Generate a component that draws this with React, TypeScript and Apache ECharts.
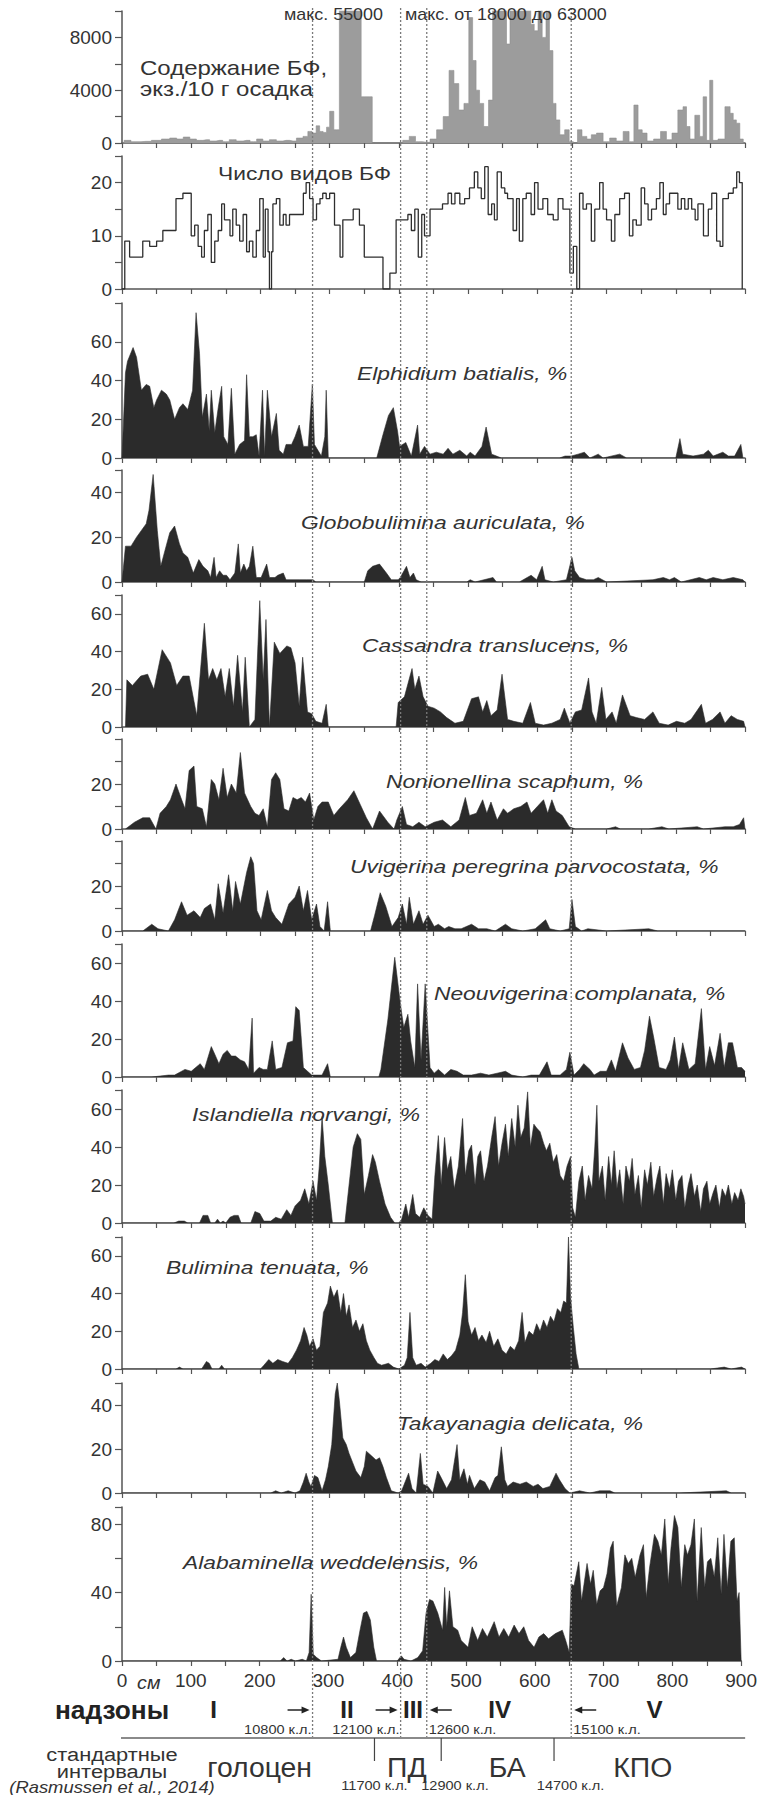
import React, { useEffect, useRef } from 'react';
import * as echarts from 'echarts';

// ---------- DATA (depth in cm, value) ----------
const contentBF: number[][] = [
  [0,0],[6,200],[20,100],[35,125],[50,200],[64,300],[74,375],[84,300],[93,450],[103,300],[112,200],[122,250],[131,150],[141,200],[150,100],[160,250],[170,150],[180,200],[190,100],[199,300],[208,150],[218,250],[228,150],[237,200],[247,150],[257,375],[266,500],[271,875],[278,750],[283,1300],[288,875],[293,800],[298,1200],[302,2400],[310,1000],[318,55000],[326,55000],[333,40000],[341,55000],[350,3500],[358,3500],[365,0],[401,0],[410,200],[420,500],[428,100],[440,50],[450,300],[459,1000],[469,2000],[476,5500],[483,4500],[490,2500],[498,3000],[504,9500],[509,6250],[514,4000],[519,3000],[526,1250],[533,3250],[538,18000],[543,25000],[548,63000],[553,20000],[558,7500],[563,30000],[568,40000],[573,15000],[578,50000],[583,22000],[588,35000],[593,9000],[598,8500],[604,20000],[610,8000],[615,12000],[620,7000],[625,3000],[629,1750],[636,625],[643,1000],[649,100],[655,0],[661,1000],[668,500],[675,300],[681,625],[690,750],[700,100],[709,375],[719,150],[729,875],[736,100],[743,2875],[748,1000],[755,750],[762,150],[774,300],[782,875],[791,250],[798,750],[808,2500],[813,2750],[818,1250],[823,300],[832,2100],[837,500],[842,3500],[847,200],[851,4750],[856,200],[866,300],[876,2750],[881,2250],[885,1750],[890,1500],[895,300],[900,0]
];

const speciesCount: number[][] = [
  [0,0],[4,9],[11,6],[30,9],[40,8],[50,9],[59,11],[78,17],[88,18],[100,10],[105,12],[110,8],[115,6],[119,11],[124,14],[129,5],[134,9],[139,11],[144,16],[148,13],[156,10],[160,15],[165,12],[170,9],[175,14],[180,7],[184,9],[189,6],[194,11],[199,17],[204,6],[207,15],[211,7],[213,0],[216,7],[218,16],[223,17],[228,12],[233,14],[237,12],[242,14],[257,14],[262,18],[266,20],[271,17],[276,13],[281,16],[286,17],[290,18],[295,17],[300,18],[307,12],[315,6],[319,13],[334,15],[343,12],[350,6],[377,0],[387,3],[396,13],[406,13],[413,14],[418,11],[423,15],[428,6],[433,14],[437,10],[445,15],[463,16],[471,18],[476,16],[481,18],[488,16],[495,17],[502,19],[509,22],[514,19],[519,17],[524,23],[529,14],[534,16],[538,13],[542,22],[548,19],[553,18],[557,17],[565,11],[570,17],[574,9],[579,17],[584,18],[591,14],[596,20],[601,15],[608,17],[615,14],[623,13],[630,17],[637,15],[642,15],[647,3],[652,8],[657,0],[661,18],[666,15],[671,16],[678,9],[683,15],[690,20],[695,15],[700,13],[707,9],[712,14],[719,17],[726,18],[733,10],[738,13],[743,12],[750,19],[755,16],[760,13],[765,15],[772,17],[777,20],[782,14],[786,16],[791,18],[796,18],[803,15],[808,17],[813,15],[818,17],[823,15],[828,13],[832,16],[840,10],[847,15],[852,18],[859,9],[864,8],[868,17],[876,18],[883,19],[888,22],[892,20],[896,0]
];

const elphidium: number[][] = [
  [0,0],[5,44],[8,50],[16,57],[21,52],[28,35],[35,38],[40,37],[46,26],[50,30],[57,35],[64,33],[69,30],[76,20],[83,26],[88,28],[95,25],[102,35],[107,75],[112,54],[116,21],[122,33],[126,14],[129,35],[134,13],[139,26],[144,37],[147,11],[153,7],[158,36],[163,2],[170,7],[177,9],[180,43],[184,11],[189,11],[194,12],[198,1],[203,35],[206,1],[210,35],[216,11],[223,23],[227,4],[233,2],[237,7],[245,7],[250,11],[256,17],[262,6],[269,6],[275,38],[278,7],[283,4],[288,1],[293,11],[295,35],[298,0],[368,0],[377,12],[385,22],[392,26],[398,14],[401,6],[410,8],[418,1],[427,17],[430,2],[437,6],[445,2],[454,3],[464,2],[471,5],[478,2],[488,4],[498,1],[503,3],[510,1],[520,6],[526,16],[534,2],[541,1],[548,0],[632,0],[640,1],[649,1],[659,2],[668,3],[676,0],[688,2],[695,0],[719,2],[729,0],[800,0],[806,10],[810,2],[825,1],[840,2],[847,4],[854,1],[868,3],[876,1],[885,1],[894,7],[897,0]
];

const globobulimina: number[][] = [
  [0,0],[5,16],[13,16],[21,20],[28,23],[35,26],[39,32],[45,48],[51,23],[56,7],[62,14],[69,22],[76,25],[83,17],[88,13],[95,11],[103,4],[111,10],[117,7],[124,5],[128,2],[133,11],[136,2],[141,5],[146,3],[151,3],[156,1],[163,4],[168,17],[171,4],[176,8],[180,5],[184,7],[189,16],[194,2],[201,2],[209,8],[213,2],[221,2],[225,3],[233,4],[237,1],[247,1],[257,1],[266,1],[276,1],[280,0],[350,0],[355,5],[362,7],[372,8],[382,4],[389,1],[399,1],[402,2],[411,7],[416,2],[421,4],[425,1],[432,0],[498,0],[503,1],[510,0],[536,2],[541,0],[574,0],[591,3],[599,1],[607,7],[611,1],[623,0],[642,1],[650,11],[654,5],[661,2],[671,1],[681,1],[688,2],[700,0],[767,1],[782,2],[791,1],[798,2],[808,0],[834,2],[844,1],[854,2],[868,1],[883,2],[897,1],[900,0]
];

const cassandra: number[][] = [
  [5,0],[7,25],[15,22],[27,27],[37,28],[46,20],[58,41],[70,34],[79,22],[88,27],[97,27],[108,6],[119,55],[125,25],[131,31],[137,25],[143,31],[149,16],[155,31],[161,11],[167,38],[174,8],[178,37],[184,0],[192,4],[199,67],[204,25],[208,57],[213,0],[220,45],[228,39],[238,43],[244,42],[250,34],[256,11],[261,37],[268,8],[274,7],[280,3],[289,2],[295,12],[298,0],[396,0],[399,13],[408,16],[419,31],[423,20],[429,27],[435,16],[442,11],[451,10],[460,8],[469,5],[481,2],[493,3],[505,15],[515,16],[521,8],[527,14],[533,6],[542,9],[549,28],[557,4],[566,3],[579,2],[590,13],[597,2],[609,1],[621,2],[633,4],[639,10],[647,2],[655,8],[664,9],[674,26],[679,8],[685,2],[693,21],[699,4],[708,8],[714,2],[723,17],[734,6],[743,5],[755,4],[767,8],[776,2],[789,1],[801,3],[813,2],[822,4],[837,12],[843,2],[853,4],[864,8],[871,2],[880,6],[889,4],[898,3],[900,0]
];

const nonionellina: number[][] = [
  [5,0],[18,3],[30,5],[40,5],[49,0],[55,7],[64,10],[70,13],[78,20],[85,14],[91,9],[97,26],[104,28],[108,10],[116,9],[122,1],[129,22],[134,20],[140,13],[146,27],[152,14],[158,20],[165,16],[171,34],[177,16],[186,10],[192,7],[198,6],[204,9],[210,1],[216,22],[222,25],[228,22],[234,9],[241,8],[247,14],[253,13],[259,14],[265,12],[271,16],[277,4],[283,10],[289,12],[298,12],[306,6],[314,9],[326,13],[335,17],[344,11],[353,5],[362,0],[372,8],[384,3],[393,0],[397,4],[405,10],[411,2],[420,1],[429,3],[438,1],[451,3],[463,4],[475,1],[487,4],[496,14],[502,6],[512,7],[521,13],[527,7],[533,12],[542,4],[551,9],[557,7],[566,9],[576,10],[585,12],[591,7],[600,10],[609,13],[615,7],[621,13],[627,8],[636,6],[646,1],[655,0],[700,0],[713,1],[720,0],[761,0],[780,1],[790,0],[831,1],[840,0],[871,1],[883,1],[892,2],[898,5],[900,0]
];

const uvigerina: number[][] = [
  [0,0],[30,0],[43,3],[52,1],[67,0],[76,5],[86,13],[94,7],[104,9],[113,6],[119,10],[128,12],[134,5],[139,21],[146,8],[154,25],[160,9],[164,22],[171,12],[180,26],[186,33],[190,30],[195,9],[201,5],[210,18],[216,9],[222,6],[231,3],[241,12],[250,15],[256,20],[262,9],[268,18],[274,5],[281,12],[286,2],[292,0],[297,13],[301,0],[359,0],[365,7],[373,17],[381,11],[390,2],[399,6],[405,12],[411,3],[415,15],[421,3],[429,9],[435,3],[442,7],[451,2],[457,3],[466,1],[472,2],[481,1],[490,1],[505,3],[515,1],[527,1],[539,0],[554,3],[563,1],[579,0],[597,1],[612,5],[618,1],[633,0],[646,1],[650,14],[655,2],[664,0],[673,1],[700,0],[761,1],[774,0],[900,0]
];

const neouvigerina: number[][] = [
  [0,0],[43,0],[67,1],[76,1],[91,4],[100,3],[113,7],[119,4],[129,16],[134,12],[140,7],[146,12],[152,14],[158,11],[164,11],[171,9],[177,8],[183,4],[188,31],[190,2],[198,5],[204,4],[210,4],[217,19],[222,4],[231,5],[239,18],[247,19],[251,37],[256,35],[262,5],[268,3],[274,1],[280,1],[289,1],[297,7],[301,0],[371,0],[374,4],[384,30],[394,63],[402,39],[407,26],[413,33],[417,19],[423,5],[427,49],[432,9],[438,49],[445,5],[451,2],[457,4],[466,1],[475,4],[484,3],[493,1],[505,1],[518,2],[530,1],[542,2],[554,3],[563,1],[579,0],[591,1],[603,1],[614,8],[620,1],[633,1],[642,4],[647,13],[653,1],[661,4],[667,7],[676,4],[682,1],[691,3],[700,3],[707,9],[713,3],[723,18],[731,10],[740,4],[749,5],[755,14],[762,32],[768,21],[776,5],[786,4],[792,9],[798,21],[804,4],[810,18],[819,4],[828,7],[837,36],[843,4],[849,16],[856,6],[864,23],[870,5],[876,18],[882,18],[889,5],[895,5],[900,3]
];

const islandiella: number[][] = [
  [0,0],[75,0],[82,1],[90,1],[95,0],[112,0],[117,4],[124,4],[128,0],[134,0],[138,2],[142,0],[146,1],[150,0],[156,3],[162,4],[168,4],[172,0],[186,0],[192,6],[199,5],[205,1],[215,1],[222,3],[230,2],[238,7],[244,4],[250,9],[258,12],[264,18],[270,10],[276,22],[281,12],[285,30],[289,56],[293,35],[298,20],[304,0],[322,0],[328,20],[334,40],[340,47],[345,44],[350,15],[356,25],[362,36],[366,32],[372,22],[380,10],[388,3],[394,0],[400,0],[404,2],[410,10],[414,3],[420,15],[424,5],[430,3],[436,8],[442,4],[448,2],[452,25],[457,46],[461,20],[466,45],[470,28],[475,35],[480,18],[486,30],[492,55],[496,25],[501,38],[505,41],[510,20],[514,35],[518,38],[523,22],[528,30],[534,45],[539,56],[544,30],[549,42],[554,52],[558,35],[563,55],[568,40],[572,62],[576,45],[581,50],[586,69],[590,40],[595,52],[599,50],[604,48],[609,42],[613,38],[618,42],[623,32],[628,36],[633,25],[638,22],[643,30],[648,35],[651,8],[655,3],[660,22],[665,30],[669,12],[674,25],[679,18],[683,40],[686,62],[689,22],[694,30],[698,12],[703,35],[707,20],[711,38],[715,18],[719,28],[724,10],[728,30],[733,22],[737,34],[741,15],[746,25],[750,8],[755,28],[759,20],[764,32],[768,14],[773,24],[777,30],[782,10],[786,26],[791,18],[795,28],[800,12],[804,22],[809,25],[813,8],[818,20],[822,26],[827,14],[831,20],[836,6],[840,18],[845,22],[849,10],[854,16],[858,20],[863,8],[867,18],[872,14],[876,20],[881,10],[885,16],[890,12],[894,18],[898,14],[900,10]
];

const bulimina: number[][] = [
  [0,0],[78,0],[83,1],[88,0],[115,0],[122,4],[126,3],[130,0],[140,0],[144,2],[148,0],[200,0],[205,2],[212,5],[218,3],[225,5],[232,4],[240,3],[246,6],[252,10],[258,15],[263,22],[267,18],[271,12],[276,16],[281,10],[286,12],[291,30],[297,35],[301,44],[306,38],[311,42],[316,30],[320,40],[324,28],[328,34],[333,22],[338,26],[343,20],[348,24],[353,15],[358,10],[364,6],[369,3],[375,2],[385,3],[392,1],[400,0],[408,2],[412,6],[416,30],[420,6],[425,2],[432,3],[438,1],[446,3],[452,5],[458,4],[464,8],[470,5],[476,7],[482,10],[488,18],[492,30],[496,50],[500,25],[505,18],[510,22],[515,15],[520,18],[526,14],[531,20],[537,12],[543,16],[549,10],[555,8],[561,12],[567,10],[573,15],[578,30],[582,14],[588,20],[594,18],[599,24],[604,20],[609,26],[614,22],[619,28],[624,25],[629,32],[634,30],[638,36],[642,35],[645,70],[648,38],[652,22],[656,8],[660,0],[760,0],[850,0],[870,1],[880,0],[895,1],[900,0]
];

const takayanagia: number[][] = [
  [0,0],[215,0],[222,1],[230,0],[240,1],[250,0],[257,1],[262,5],[266,9],[270,5],[273,3],[278,8],[283,7],[289,1],[294,6],[298,12],[303,22],[308,45],[311,50],[314,42],[319,25],[324,22],[328,18],[333,14],[338,10],[345,7],[350,12],[353,19],[360,17],[367,15],[372,16],[377,12],[382,7],[389,1],[399,0],[404,1],[414,9],[419,2],[425,0],[431,18],[435,4],[442,3],[449,0],[456,10],[461,7],[469,2],[476,6],[484,22],[488,6],[494,11],[499,4],[502,8],[509,2],[517,6],[524,5],[531,1],[539,7],[543,8],[548,21],[553,6],[557,3],[565,5],[575,4],[584,5],[594,3],[601,4],[608,2],[618,3],[627,9],[632,6],[640,2],[647,0],[661,1],[676,0],[690,1],[705,1],[712,0],[806,0],[873,1],[880,0],[900,0]
];

const alabaminella: number[][] = [
  [0,0],[230,0],[235,2],[240,0],[246,1],[252,0],[262,1],[268,0],[272,5],[275,39],[278,4],[283,2],[290,0],[314,1],[318,8],[322,14],[326,8],[332,2],[340,5],[346,18],[351,28],[356,29],[361,24],[366,8],[370,0],[400,0],[406,3],[410,1],[420,0],[430,2],[437,6],[442,28],[447,36],[452,35],[459,28],[466,18],[469,43],[472,20],[476,41],[481,20],[488,18],[493,12],[503,8],[509,20],[517,12],[524,19],[531,14],[541,23],[548,14],[555,19],[562,14],[570,21],[577,16],[584,20],[591,12],[599,8],[606,14],[613,16],[620,13],[630,16],[640,18],[645,12],[650,5],[653,45],[657,44],[664,58],[668,35],[676,57],[681,45],[685,53],[690,33],[695,41],[700,43],[705,51],[710,66],[714,70],[719,32],[726,43],[731,62],[736,57],[741,60],[746,49],[753,62],[758,68],[762,37],[767,55],[774,74],[779,70],[784,62],[789,83],[794,45],[798,66],[803,85],[808,78],[813,43],[818,68],[822,62],[827,68],[832,83],[836,35],[842,78],[847,43],[851,58],[856,60],[861,49],[866,72],[871,39],[875,74],[880,43],[885,70],[890,72],[894,35],[897,40],[900,0]
];

const seriesData = [contentBF, speciesCount, elphidium, globobulimina, cassandra, nonionellina, uvigerina, neouvigerina, islandiella, bulimina, takayanagia, alabaminella];

const speciesTitles = [
  'Elphidium batialis, %', 'Globobulimina auriculata, %', 'Cassandra translucens, %', 'Nonionellina scaphum, %',
  'Uvigerina peregrina parvocostata, %', 'Neouvigerina complanata, %', 'Islandiella norvangi, %', 'Bulimina tenuata, %',
  'Takayanagia delicata, %', 'Alabaminella weddelensis, %'
];

// axis scales
const yMax = [10000, 25, 80, 50, 70, 40, 40, 70, 70, 70, 50, 90];
const yInterval = [2000, 5, 20, 20, 20, 10, 10, 20, 20, 20, 20, 20];
const yLabelEvery = [4000, 10, 20, 20, 20, 20, 20, 20, 20, 20, 20, 40];
const xTickLabels = [0, 100, 200, 300, 400, 500, 600, 700, 800, 900];

// zones / boundaries
const boundaryDepths = [277, 405, 443, 653];
const boundaryAges = ['10800 к.л.', '12100 к.л.', '12600 к.л.', '15100 к.л.'];
const boundaryArrowDir = [1, 1, -1, -1];
const superzoneNames = ['I', 'II', 'III', 'IV', 'V'];
const superzoneCenters = [133, 327, 423, 549, 774];
const intervalBoundaries = [367, 464, 628];
const intervalAges = ['11700 к.л.', '12900 к.л.', '14700 к.л.'];
const intervalAgeCenters = [367, 484, 652];
const intervalNames = ['голоцен', 'ПД', 'БА', 'КПО'];
const intervalCenters = [200, 414, 560, 757];

// ---------- LAYOUT ----------
const gridTops = [11, 156, 303, 470, 595, 739, 841, 944, 1090, 1237, 1383, 1507];
const gridHeights = [132, 133, 155, 112, 132, 90, 90, 133, 133, 132, 110, 154];
const speciesTitlePos = [
  [357, 373], [301, 522], [362, 645], [386, 781], [350, 866], [434, 993], [192, 1114], [166, 1267], [397, 1423], [183, 1562]
];
const FONT = '"Liberation Sans", Arial, Helvetica, sans-serif';
const AXIS = '#555';
const TXT = '#333';
const FILL = '#2b2b2b';

function txt(text: string, x: number, y: number, size: number, opts: any = {}) {
  const align = opts.align || 'left';
  return {
    type: 'text', x, y, scaleX: opts.scaleX ?? 1.15, z: 120, silent: true,
    style: {
      text, fontSize: size, fontFamily: FONT, fontStyle: opts.italic ? 'italic' : 'normal',
      fontWeight: opts.bold ? 'bold' : 'normal', fill: opts.color || TXT,
      align, textAlign: align, verticalAlign: 'middle', textVerticalAlign: 'middle'
    }
  };
}

export default function App() {
  const ref = useRef<HTMLDivElement>(null);
  useEffect(() => {
    if (!ref.current) return;
    const chart = echarts.init(ref.current, undefined, { renderer: 'svg' });
    const n = seriesData.length;
    const grids = gridTops.map((t, i) => ({ left: 122, right: 15, top: t, height: gridHeights[i] }));
    const xAxes = grids.map((_, i) => ({
      type: 'value', gridIndex: i, min: 0, max: 900, interval: 50,
      axisLine: { show: true, lineStyle: { color: AXIS, width: 1.5 } },
      axisTick: { show: true, length: 5, lineStyle: { color: AXIS, width: 1.2 } },
      splitLine: { show: false },
      axisLabel: {
        show: i === n - 1, fontSize: 19, color: TXT, fontFamily: FONT, margin: 10,
        formatter: (v: number) => (xTickLabels.indexOf(v) >= 0 ? String(v) : '')
      }
    }));
    const yAxes = grids.map((_, i) => ({
      type: 'value', gridIndex: i, min: 0, max: yMax[i], interval: yInterval[i],
      axisLine: { show: true, lineStyle: { color: AXIS, width: 1.5 } },
      axisTick: { show: true, length: 7, lineStyle: { color: AXIS, width: 1.2 } },
      splitLine: { show: false },
      axisLabel: {
        fontSize: 19, color: TXT, fontFamily: FONT, margin: 10, showMaxLabel: true,
        formatter: (v: number) => (v !== yMax[i] && v % yLabelEvery[i] === 0 ? String(v) : '')
      }
    }));
    const series = seriesData.map((d, i) => {
      const base: any = {
        type: 'line', xAxisIndex: i, yAxisIndex: i, data: d, symbol: 'none', silent: true,
        clip: true, animation: false
      };
      if (i === 0) {
        base.step = 'middle';
        base.lineStyle = { color: '#8e8e8e', width: 0.6 };
        base.areaStyle = { color: '#9c9c9c', opacity: 1 };
      } else if (i === 1) {
        base.step = 'end';
        base.lineStyle = { color: '#2e2e2e', width: 1.3 };
      } else {
        base.lineStyle = { color: FILL, width: 0.6 };
        base.areaStyle = { color: FILL, opacity: 1 };
      }
      return base;
    });
    chart.setOption({ animation: false, backgroundColor: '#fff', grid: grids, xAxis: xAxes, yAxis: yAxes, series });

    const px = (cm: number) => chart.convertToPixel({ xAxisIndex: n - 1 }, cm) as unknown as number;
    const g: any[] = [];
    const zoneY = 1710;
    const ageY = 1730;
    const ruleY = 1738;
    // dotted boundaries
    boundaryDepths.forEach((b) => {
      const x = px(b);
      g.push({ type: 'line', z: 100, silent: true, shape: { x1: x, y1: 8, x2: x, y2: ruleY },
        style: { stroke: '#7a7a7a', lineWidth: 1.3, lineDash: [2, 2] } });
    });
    // top titles
    g.push(txt('макс. 55000', 383, 15, 16, { align: 'right', scaleX: 1.12 }));
    g.push(txt('макс. от 18000 до 63000', 405, 15, 16, { scaleX: 1.12 }));
    g.push(txt('Содержание БФ,', 140, 68, 20, { scaleX: 1.2 }));
    g.push(txt('экз./10 г осадка', 140, 89, 20, { scaleX: 1.2 }));
    g.push(txt('Число видов БФ', 218, 173, 19, { scaleX: 1.2 }));
    speciesTitles.forEach((t, i) => {
      g.push(txt(t, speciesTitlePos[i][0], speciesTitlePos[i][1], 19, { italic: true, scaleX: 1.2 }));
    });
    // x unit
    g.push(txt('см', px(0) + 15, 1683, 18, { italic: true, scaleX: 1.1 }));
    // superzones row
    g.push(txt('надзоны', 112, zoneY, 25, { bold: true, align: 'center', scaleX: 1.05, color: '#222' }));
    superzoneNames.forEach((s, i) => {
      g.push(txt(s, px(superzoneCenters[i]), zoneY, 23, { bold: true, align: 'center', scaleX: 1.05, color: '#222' }));
    });
    boundaryDepths.forEach((b, i) => {
      const x = px(b);
      const dir = boundaryArrowDir[i];
      const tip = x - dir * 3;
      const tail = x - dir * 25;
      g.push({ type: 'line', z: 110, silent: true, shape: { x1: tail, y1: zoneY, x2: tip - dir * 4, y2: zoneY },
        style: { stroke: '#222', lineWidth: 1.5 } });
      g.push({ type: 'polygon', z: 110, silent: true,
        shape: { points: [[tip, zoneY], [tip - dir * 8, zoneY - 3.5], [tip - dir * 8, zoneY + 3.5]] }, style: { fill: '#222' } });
      g.push(txt(boundaryAges[i], dir > 0 ? x - 1 : x + 2, ageY, 13, { align: dir > 0 ? 'right' : 'left', scaleX: 1.12 }));
    });
    // horizontal rule
    g.push({ type: 'line', z: 100, silent: true, shape: { x1: px(0) - 1, y1: ruleY, x2: px(900) + 4, y2: ruleY },
      style: { stroke: '#8a8a8a', lineWidth: 2 } });
    intervalBoundaries.forEach((b) => {
      const x = px(b);
      g.push({ type: 'line', z: 100, silent: true, shape: { x1: x, y1: ruleY, x2: x, y2: 1761 },
        style: { stroke: '#444', lineWidth: 1.2 } });
    });
    intervalAges.forEach((a, i) => {
      g.push(txt(a, px(intervalAgeCenters[i]), 1786, 13, { align: 'center', scaleX: 1.12 }));
    });
    intervalNames.forEach((s, i) => {
      g.push(txt(s, px(intervalCenters[i]), 1768, 27, { align: 'center', scaleX: 1.05 }));
    });
    g.push(txt('стандартные', 112, 1754, 19, { align: 'center', scaleX: 1.15 }));
    g.push(txt('интервалы', 112, 1771, 19, { align: 'center', scaleX: 1.15 }));
    g.push(txt('(Rasmussen et al., 2014)', 112, 1787, 16, { align: 'center', italic: true, scaleX: 1.15 }));

    chart.setOption({ graphic: g });
    return () => chart.dispose();
  }, []);
  return <div ref={ref} style={{ position: 'absolute', left: 0, top: 0, width: 760, height: 1795, background: '#fff' }} />;
}
